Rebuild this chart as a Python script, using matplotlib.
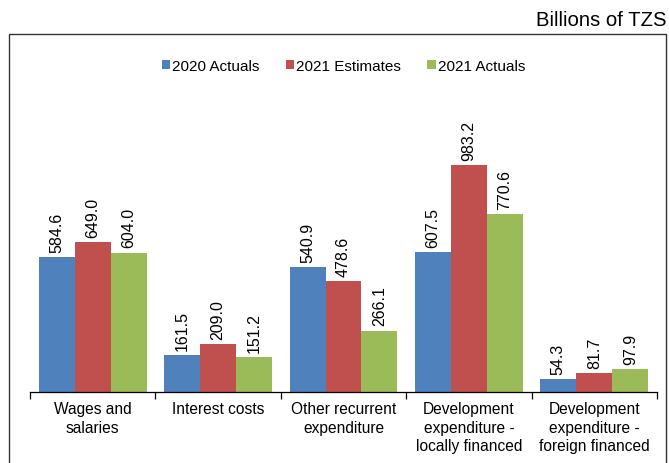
import matplotlib
matplotlib.use("Agg")
import matplotlib.pyplot as plt
import numpy as np
from matplotlib.patches import Rectangle

plt.rcParams['font.family'] = ['Liberation Sans', 'DejaVu Sans']

categories = ["Wages and\nsalaries", "Interest costs", "Other recurrent\nexpenditure",
              "Development\nexpenditure -\nlocally financed",
              "Development\nexpenditure -\nforeign financed"]
series_names = ["2020 Actuals", "2021 Estimates", "2021 Actuals"]
actuals_2020 = [584.6, 161.5, 540.9, 607.5, 54.3]
estimates_2021 = [649.0, 209.0, 478.6, 983.2, 81.7]
actuals_2021 = [604.0, 151.2, 266.1, 770.6, 97.9]
colors = ["#4F81BD", "#C0504D", "#9BBB59"]

W, H = 669, 464
fig = plt.figure(figsize=(W / 100, H / 100), dpi=100)

# axes: x from 30 to 657 px, baseline at y=393 px, top at 45 px
ax = fig.add_axes([30 / W, (H - 393) / H, (657 - 30) / W, (393 - 45) / H])
ymax = (393 - 45) / 0.2309
ax.set_ylim(0, ymax)
ax.set_xlim(0, len(categories))

x = np.arange(len(categories)) + 0.5
bw = 0.287
data = [actuals_2020, estimates_2021, actuals_2021]
for i, (vals, name, c) in enumerate(zip(data, series_names, colors)):
    pos = x + (i - 1) * bw
    ax.bar(pos, vals, width=bw, color=c, label=name, edgecolor='none')
    for p, v in zip(pos, vals):
        ax.text(p, v + 22, f"{v:.1f}", rotation=90, ha='center', va='bottom', fontsize=11.5)

for s in ['top', 'right', 'left']:
    ax.spines[s].set_visible(False)
ax.spines['bottom'].set_linewidth(0.9)
ax.set_yticks([])
ax.set_xticks(np.arange(len(categories) + 1))
ax.set_xticklabels([])
ax.tick_params(axis='x', direction='out', length=5, width=0.9)
for xi, lab in zip(x, categories):
    ax.text(xi, -40, lab, ha='center', va='top', fontsize=11.2, linespacing=1.3,
            transform=ax.transData)

ax.legend(loc='center', bbox_to_anchor=(0.5, (393 - 67) / (393 - 45)), ncol=3, frameon=False,
          fontsize=11, handlelength=0.55, handleheight=0.55, handletextpad=0.15,
          columnspacing=1.7, borderaxespad=0.0)

# outer frame
fig.patches.append(Rectangle((9 / W, -0.05), (666 - 9) / W, (H - 35) / H + 0.05,
                             transform=fig.transFigure, fill=False,
                             edgecolor='#333333', linewidth=1.0))

fig.text(666 / W, 1 - 21 / H, "Billions of TZS", ha='right', va='center', fontsize=14.6)

fig.savefig("out.png", dpi=100)
